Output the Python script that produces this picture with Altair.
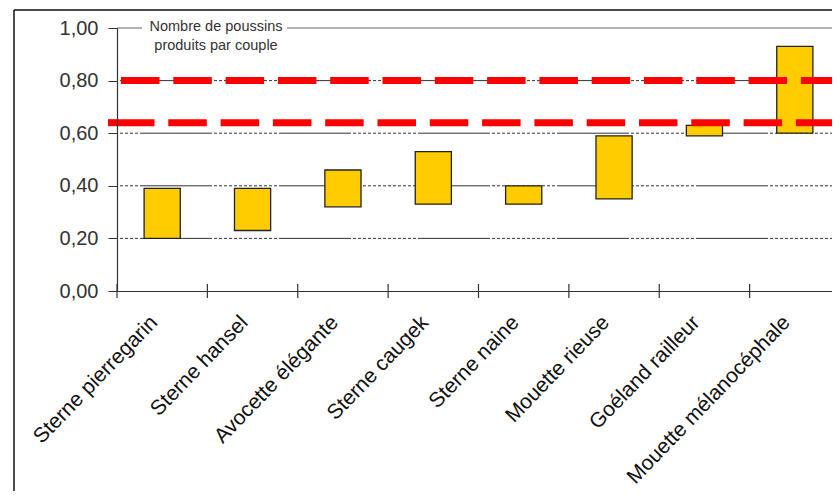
import altair as alt
import pandas as pd

# ---- data ----
categories = ["Sterne pierregarin", "Sterne hansel", "Avocette élégante", "Sterne caugek",
              "Sterne naine", "Mouette rieuse", "Goéland railleur", "Mouette mélanocéphale"]
low_values = [0.20, 0.23, 0.32, 0.33, 0.33, 0.35, 0.59, 0.60]
high_values = [0.39, 0.39, 0.46, 0.53, 0.40, 0.59, 0.63, 0.93]
threshold_high = 0.80
threshold_low = 0.64
grid_values = [0.2, 0.4, 0.6, 0.8]
y_ticks = [0.0, 0.2, 0.4, 0.6, 0.8, 1.0]
title_lines = ["Nombre de poussins", "produits par couple"]

W_VIEW = 715     # visible part of the plot (page is cut at the right edge)
W_FULL = 723     # full extent of the category axis
H = 263
FONT = "Liberation Sans"

df = pd.DataFrame({"espece": categories, "bas": low_values, "haut": high_values})
grid_df = pd.DataFrame({"v": grid_values})
one = pd.DataFrame({"a": [0]})

xscale = alt.Scale(paddingInner=0, paddingOuter=0, range=[0, W_FULL])
xenc = alt.X("espece:N", sort=categories, scale=xscale,
             axis=alt.Axis(title=None, labelAngle=-46, labelAlign="right", labelBaseline="middle",
                           labelFontSize=21, labelFont=FONT, labelColor="#111", labelPadding=28,
                           labelOffset=-8, ticks=False, tickSize=0, domainColor="#333",
                           domainWidth=1.2, zindex=1, labelLimit=400))
yscale = alt.Scale(domain=[0, 1], nice=False, zero=True)
yaxis = alt.Axis(title=None, values=y_ticks, grid=False,
                 labelExpr="replace(format(datum.value, '.2f'), '.', ',')",
                 labelFontSize=20, labelFont=FONT, labelColor="#333", labelPadding=10,
                 tickSize=9, tickColor="#333", domainColor="#333", domainWidth=1.2, zindex=1)

dash_grid = [72, 2] + [3, 2] * 13

grid = alt.Chart(grid_df).mark_rule(color="#333", strokeWidth=1, strokeDash=dash_grid,
                                    strokeDashOffset=116).encode(
    y=alt.Y("v:Q", scale=yscale, axis=yaxis), x=alt.value(0), x2=alt.value(W_FULL))

top_a = alt.Chart(one).mark_rule(color="#999", strokeWidth=1.5).encode(
    y=alt.datum(1.0), x=alt.value(0), x2=alt.value(25))
top_b = alt.Chart(one).mark_rule(color="#999", strokeWidth=1.5).encode(
    y=alt.datum(1.0), x=alt.value(170), x2=alt.value(W_FULL))

bars = alt.Chart(df).mark_bar(width=alt.RelativeBandSize(0.4), color="#FFCC00",
                              stroke="#222", strokeWidth=1.3).encode(
    x=xenc, y=alt.Y("bas:Q", scale=yscale, axis=yaxis), y2="haut:Q")

red_dash = [38.5, 13.8]
red_hi = alt.Chart(one).mark_rule(color="#FF0000", strokeWidth=7, strokeDash=red_dash).encode(
    y=alt.datum(threshold_high), x=alt.value(4), x2=alt.value(W_FULL))
red_lo = alt.Chart(one).mark_rule(color="#FF0000", strokeWidth=7, strokeDash=red_dash).encode(
    y=alt.datum(threshold_low), x=alt.value(-1), x2=alt.value(718))
red_lo_start = alt.Chart(one).mark_rule(color="#FF0000", strokeWidth=7).encode(
    y=alt.datum(threshold_low), x=alt.value(-9), x2=alt.value(-1))

ticks = alt.Chart(df).mark_rule(color="#333", strokeWidth=1.2).encode(
    x=alt.X("espece:N", sort=categories, bandPosition=0),
    y=alt.value(H - 7), y2=alt.value(H + 7))

title = alt.Chart(one).mark_text(text=title_lines, lineHeight=19, font=FONT, fontSize=14.5,
                                 color="#333", align="center", baseline="middle").encode(
    x=alt.value(99), y=alt.value(-1))

frame_top = alt.Chart(one).mark_rule(color="#111", strokeWidth=1.5).encode(
    x=alt.value(-103), x2=alt.value(W_FULL), y=alt.value(-18))
frame_left = alt.Chart(one).mark_rule(color="#111", strokeWidth=1.5).encode(
    x=alt.value(-103), y=alt.value(-18), y2=alt.value(H + 220))

chart = alt.layer(grid, top_a, top_b, bars, red_hi, red_lo, red_lo_start,
                  ticks, title, frame_top, frame_left).properties(
    width=W_VIEW, height=H,
    autosize=alt.AutoSizeParams(type="none"),
    padding={"left": 109, "right": 0, "top": 20, "bottom": 200},
    background="white",
).configure_view(stroke=None)

chart.save("out.html", embed_options={"renderer": "svg", "actions": False})
